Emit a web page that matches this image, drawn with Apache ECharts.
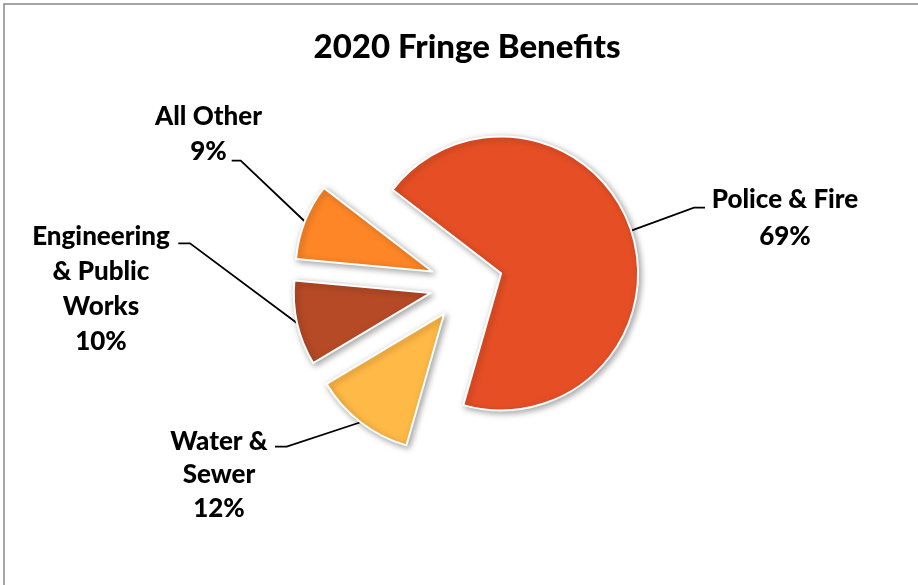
<!DOCTYPE html>
<html><head><meta charset="utf-8">
<script src="https://cdn.jsdelivr.net/npm/echarts@6/dist/echarts.min.js"></script>
<style>html,body{margin:0;padding:0;background:#fff}#c{width:918px;height:585px}</style>
</head><body><div id="c"></div>
<script>
// ---- data ----
const chartTitle = '2020 Fringe Benefits';
const categories = ['Police & Fire', 'Water &\nSewer', 'Engineering\n& Public\nWorks', 'All Other'];
const values = [69, 12, 10, 9];
const colors = ['#E64F25', '#FFB946', '#B64A26', '#FE8627'];

// ---- layout / style ----
const pieCenter = [466.4, 284.8];
const pieRadius = 137;
const explode = 36.5;
const startAngle = 142.4;
const FONT = 'Lato';
const WEIGHT = 900;
const labelFont = 26;
const labelLayouts = [
  { cx: 785, first: 200, lh: 36.5, end: [705, 207.7], knee: [694, 207.7] },
  { cx: 219, first: 441.7, lh: 33.3, end: [275, 446.7], knee: [286.7, 446.7] },
  { cx: 101, first: 236.7, lh: 35, end: [178.3, 243.3], knee: [190, 243.3] },
  { cx: 208.5, first: 116.7, lh: 35, end: [231.7, 160.7], knee: [240.7, 160.7] }
];

const total = values.reduce((a, b) => a + b, 0);
let cum = 0;
const series = values.map((v, i) => {
  const mid = (startAngle - (cum + v / 2) / total * 360) * Math.PI / 180;
  cum += v;
  const c = [pieCenter[0] + explode * Math.cos(mid), pieCenter[1] - explode * Math.sin(mid)];
  const L = labelLayouts[i];
  return {
    type: 'pie',
    center: c,
    radius: pieRadius,
    startAngle: startAngle,
    clockwise: true,
    avoidLabelOverlap: false,
    animation: false,
    emphasis: { disabled: true },
    data: values.map((val, j) => {
      const on = j === i;
      return {
        name: categories[j],
        value: val,
        itemStyle: on ? {
          color: colors[j], borderColor: '#ffffff', borderWidth: 2,
          shadowBlur: 6, shadowOffsetX: 2, shadowOffsetY: 2, shadowColor: 'rgba(0,0,0,0.35)'
        } : { color: 'rgba(0,0,0,0)', borderWidth: 0 },
        label: { show: on },
        labelLine: { show: on }
      };
    }),
    label: {
      position: 'outside',
      color: '#000',
      fontFamily: FONT,
      fontWeight: WEIGHT,
      fontSize: labelFont,
      lineHeight: L.lh,
      align: 'center',
      formatter: p => p.name + '\n' + Math.round(p.percent) + '%'
    },
    labelLine: { show: true, lineStyle: { color: '#000', width: 1.8 } },
    labelLayout: function (params) {
      if (params.dataIndex !== i) return {};
      const p0 = params.labelLinePoints ? params.labelLinePoints[0] : L.knee;
      return {
        x: L.cx, y: L.first - L.lh / 2, align: 'center', verticalAlign: 'top',
        labelLinePoints: [p0, L.knee, L.end]
      };
    }
  };
});

const chart = echarts.init(document.getElementById('c'), null, { renderer: 'canvas' });
chart.setOption({
  backgroundColor: '#ffffff',
  title: {
    text: chartTitle, left: 467, top: 27, textAlign: 'center', padding: 0,
    textStyle: { fontFamily: FONT, fontWeight: WEIGHT, fontSize: 33, color: '#000', lineHeight: 40 }
  },
  graphic: [{
    type: 'rect', z: -1, silent: true,
    shape: { x: 4, y: 4, width: 1000, height: 1000 },
    style: { fill: 'none', stroke: '#888888', lineWidth: 1.5 }
  }],
  series: series
});
</script>
</body></html>
